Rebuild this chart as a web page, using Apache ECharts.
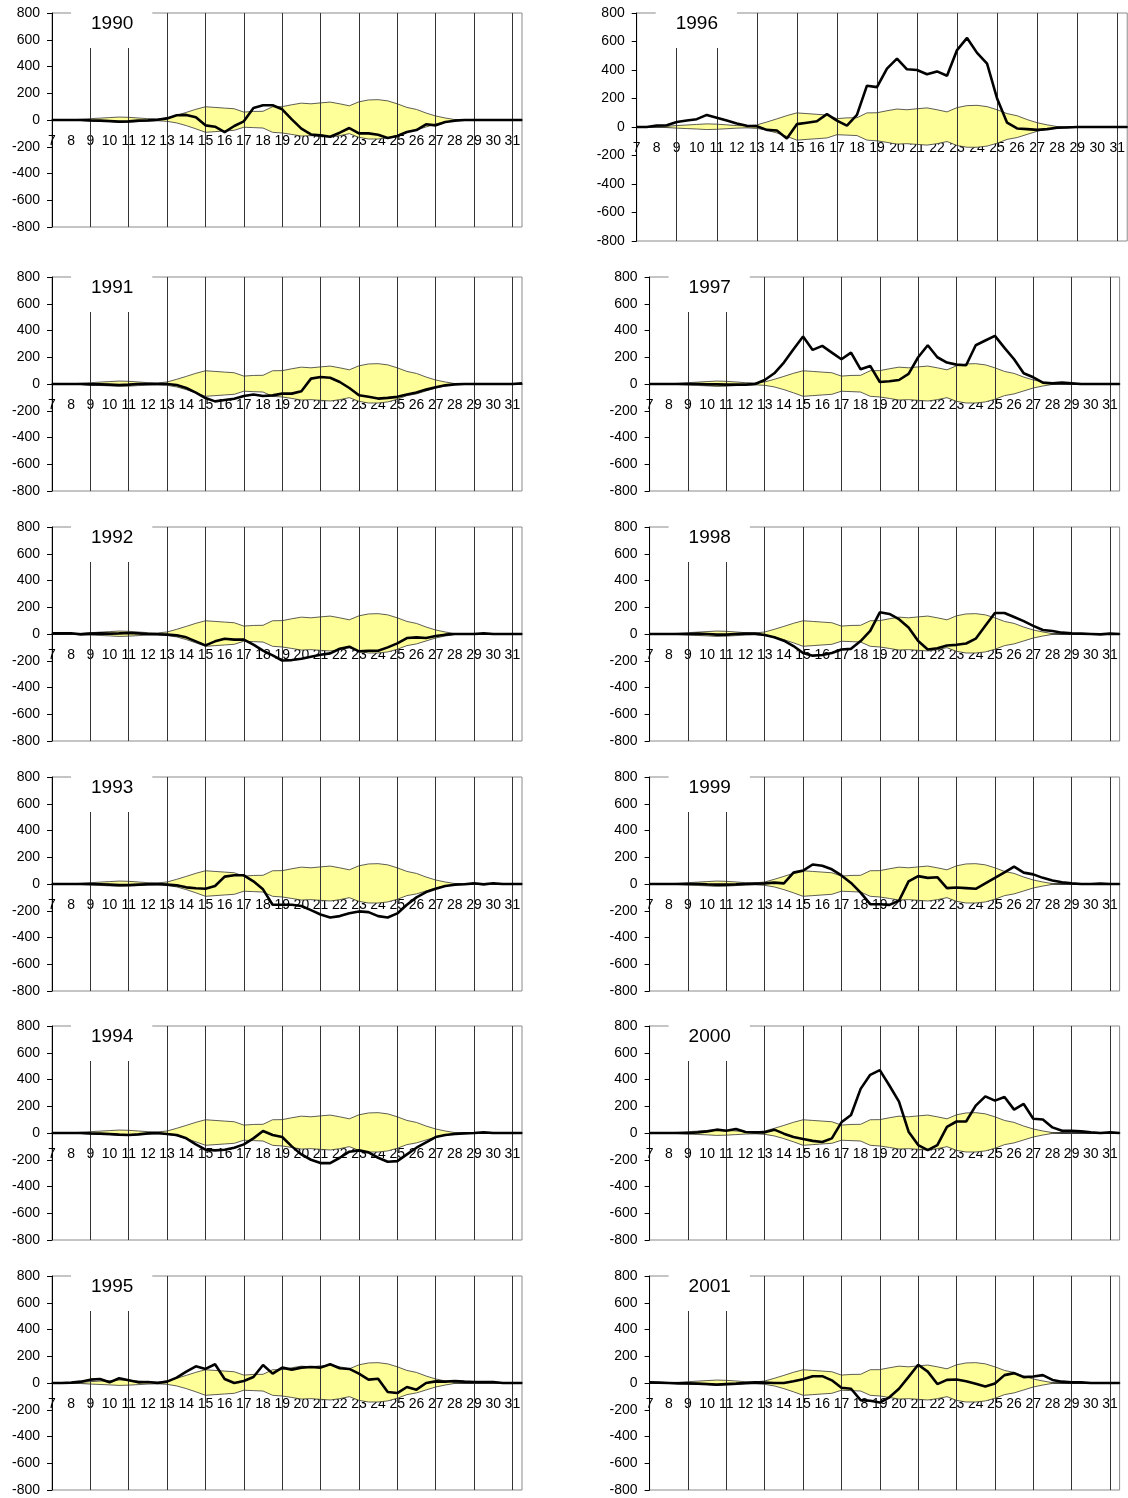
<!DOCTYPE html>
<html>
<head>
<meta charset="utf-8">
<script src="https://cdn.jsdelivr.net/npm/echarts@6/dist/echarts.min.js"></script>
<style>
html,body{margin:0;padding:0;background:#fff;}
#c{width:1128px;height:1498px;}
</style>
</head>
<body>
<div id="c"></div>
<script>
// x categories: half-day steps from 7 to 31.5
const days = ['7','7.5','8','8.5','9','9.5','10','10.5','11','11.5','12','12.5','13','13.5','14','14.5','15','15.5','16','16.5','17','17.5','18','18.5','19','19.5','20','20.5','21','21.5','22','22.5','23','23.5','24','24.5','25','25.5','26','26.5','27','27.5','28','28.5','29','29.5','30','30.5','31','31.5'];
// vertical reference lines (odd days)
const gridDays = ['9','11','13','15','17','19','21','23','25','27','29','31'];
const yMin = -800, yMax = 800, yStep = 200;

// yellow envelope (upper / lower edges)
const bandUpper = [0,0,2,5,10,14,18,22,20,15, 10,8,15,35,57,80,99,94,89,84, 59,64,65,99,100,114,126,121,128,134, 121,106,136,150,152,143,121,94,79,52, 30,15,3,0,0,0,0,0,0,0];
const bandLower = [0,0,-2,-4,-8,-11,-14,-18,-16,-12, -8,-6,-10,-22,-42,-66,-92,-87,-82,-77, -54,-57,-60,-92,-97,-108,-120,-117,-122,-127, -117,-102,-130,-142,-142,-134,-114,-87,-74,-52, -30,-15,-3,0,0,0,0,0,0,0];

// yearly lines
const y1990 = [0,0,0,0,-3,-5,-8,-12,-10,-5, -3,2,12,35,38,20,-40,-50,-90,-45, -10,90,110,110,80,5,-65,-108,-115,-125, -95,-60,-100,-100,-110,-135,-120,-90,-75,-32, -40,-15,-5,0,0,0,0,0,0,0];
const y1991 = [0,0,0,0,-3,-3,-5,-8,-5,0, 0,0,0,-8,-30,-65,-105,-130,-120,-110, -90,-78,-90,-85,-72,-72,-54,40,52,47, 15,-30,-84,-96,-109,-104,-96,-79,-64,-42, -25,-10,-3,0,0,0,0,0,0,5];
const y1992 = [5,5,5,-3,3,5,3,5,8,5, 0,-2,-5,-10,-25,-55,-85,-55,-35,-42, -42,-80,-124,-160,-198,-195,-185,-170,-155,-145, -110,-95,-130,-125,-125,-100,-70,-30,-25,-30, -15,-5,0,0,0,5,0,0,0,0];
const y1993 = [0,0,0,0,0,-2,-5,-8,-8,-5, -2,0,-5,-10,-25,-32,-35,-15,55,65, 65,20,-40,-155,-155,-155,-165,-195,-228,-250, -240,-218,-205,-210,-240,-250,-220,-155,-100,-60, -35,-15,-5,-2,5,-3,5,0,0,0];
const y1994 = [0,0,0,0,-3,-5,-8,-12,-15,-10, -3,0,-8,-15,-40,-85,-125,-130,-125,-110, -85,-40,15,-15,-30,-100,-160,-200,-225,-225, -185,-140,-130,-145,-185,-215,-210,-160,-110,-70, -30,-15,-8,-3,0,5,0,0,0,0];
const y1995 = [0,0,3,10,25,30,5,35,20,5, 8,0,10,40,85,125,105,140,30,0, 15,45,135,70,115,100,115,120,115,140, 110,105,70,25,32,-67,-75,-30,-50,0, 12,10,15,10,8,8,8,0,0,0];
const y1996 = [0,0,10,12,35,45,55,85,65,45, 25,8,5,-20,-25,-80,20,30,40,90, 45,10,85,290,280,410,480,405,400,370, 390,360,540,625,520,445,200,30,-10,-15, -20,-15,-5,-3,0,0,0,0,0,0];
const y1997 = [0,0,0,0,0,0,-3,-3,-5,-5, -5,0,30,80,160,260,355,255,285,235, 185,235,110,135,15,20,30,75,200,290, 200,160,145,140,290,325,360,270,185,80, 50,10,5,10,5,0,0,0,0,0];
const y1998 = [0,0,0,0,0,3,0,-5,-5,0, 3,3,-8,-25,-50,-90,-142,-162,-157,-142, -116,-111,-53,23,162,150,111,48,-53,-116, -106,-86,-81,-71,-35,61,157,157,127,96, 61,30,23,10,5,3,0,-3,3,0];
const y1999 = [0,0,0,0,0,0,-3,-5,-5,-3, 0,3,5,10,5,85,100,146,136,110, 64,8,-64,-151,-151,-156,-125,20,59,46, 51,-31,-26,-31,-36,5,46,87,130,85, 72,46,26,13,5,0,0,3,0,0];
const y2000 = [0,0,0,0,0,5,12,25,17,30, 7,5,5,25,-5,-30,-45,-59,-67,-40, 80,135,330,435,470,355,235,10,-90,-128, -90,45,86,86,205,274,242,269,175,217, 106,101,42,17,17,12,5,0,5,0];
const y2001 = [5,3,0,-3,-3,-5,-8,-12,-8,-5, 0,5,3,0,0,13,28,51,51,20, -36,-43,-128,-133,-146,-107,-43,46,136,85, -8,23,26,13,-5,-26,-3,59,74,44, 49,59,23,10,5,5,0,0,0,0];

const years = ['1990','1991','1992','1993','1994','1995','1996','1997','1998','1999','2000','2001'];
const yearData = [y1990,y1991,y1992,y1993,y1994,y1995,y1996,y1997,y1998,y1999,y2000,y2001];

// panel layout (pixels)
const colLeft = [52, 649.6];
const rowTop = [13, 277, 527, 777, 1026, 1276];
const layout = years.map((y, i) => {
  const col = i < 6 ? 0 : 1, row = i % 6;
  if (i === 6) return {left: 636.7, top: 13, width: 493.4, height: 228};
  return {left: colLeft[col], top: rowTop[row], width: 470, height: 214};
});

const FONT = 'Liberation Sans, Arial, sans-serif';
const option = {animation: false, backgroundColor: '#fff', title: [], grid: [], xAxis: [], yAxis: [], series: []};

layout.forEach((g, i) => {
  option.grid.push({left: g.left, top: g.top, width: g.width, height: g.height, show: true,
    borderColor: '#8a8a8a', borderWidth: 1, containLabel: false});
  // the value axis is symmetric, so zero sits at mid-height: move the category axis there
  option.xAxis.push({type: 'category', gridIndex: i, data: days, boundaryGap: false,
    position: 'bottom', offset: -g.height / 2,
    axisLine: {onZero: false, lineStyle: {color: '#000', width: 1.5}},
    axisTick: {show: false},
    axisLabel: {interval: 1, margin: 14, fontSize: 14, color: '#000', fontFamily: FONT},
    splitLine: {show: false}});
  option.yAxis.push({type: 'value', gridIndex: i, min: yMin, max: yMax, interval: yStep,
    axisLine: {show: true, lineStyle: {color: '#000', width: 1}},
    axisTick: {show: true, length: 5, lineStyle: {color: '#000'}},
    axisLabel: {fontSize: 14, margin: 12, color: '#000', fontFamily: FONT},
    splitLine: {show: false}});
  option.title.push({text: years[i], left: g.left + 19, top: g.top - 5,
    padding: [6, 19, 15, 20], backgroundColor: '#fff',
    textStyle: {fontSize: 19, fontWeight: 'normal', color: '#000', fontFamily: FONT}});
  option.series.push({type: 'line', xAxisIndex: i, yAxisIndex: i, data: bandUpper, symbol: 'none',
    lineStyle: {color: '#333', width: 0.8}, areaStyle: {color: '#FFFF99', opacity: 1}, z: 2, silent: true});
  option.series.push({type: 'line', xAxisIndex: i, yAxisIndex: i, data: bandLower, symbol: 'none',
    lineStyle: {color: '#333', width: 0.8}, areaStyle: {color: '#FFFF99', opacity: 1}, z: 2, silent: true});
  option.series.push({type: 'line', xAxisIndex: i, yAxisIndex: i, data: [], symbol: 'none', z: 3, silent: true,
    markLine: {silent: true, symbol: ['none', 'none'], label: {show: false}, animation: false,
      lineStyle: {color: '#333', width: 1, type: 'solid'},
      data: gridDays.map(d => ({xAxis: d}))}});
  option.series.push({type: 'line', xAxisIndex: i, yAxisIndex: i, data: yearData[i], symbol: 'none',
    lineStyle: {color: '#000', width: 2.6}, z: 5, silent: true});
});

const chart = echarts.init(document.getElementById('c'), null, {renderer: 'canvas'});
chart.setOption(option);
</script>
</body>
</html>
